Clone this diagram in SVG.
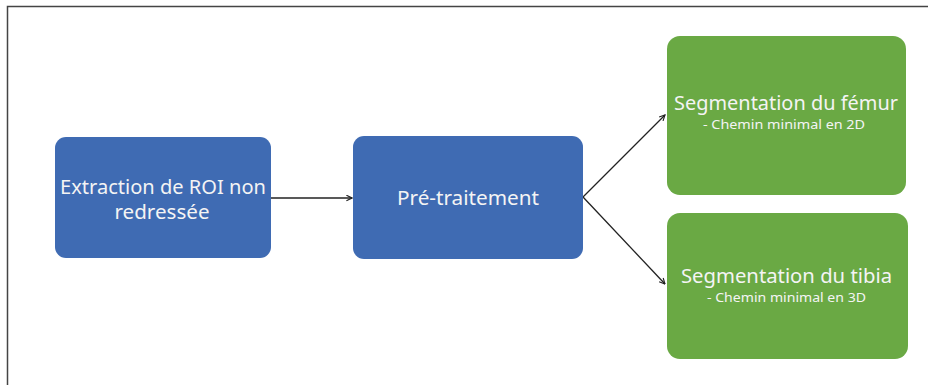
<svg xmlns="http://www.w3.org/2000/svg" width="928" height="385" viewBox="0 0 928 385">
<defs>
<style>
.blue{fill:#3F6BB3;}
.green{fill:#6AA944;}
.t{font-family:"Noto Sans","Open Sans",sans-serif;fill:#F4F4F4;text-anchor:middle;}
.m{font-size:19px;}
.s{font-size:12px;}
.c{stroke:#222;stroke-width:1.3;fill:none;marker-end:url(#ah);}
</style>
<marker id="ah" viewBox="0 0 10 10" refX="9" refY="5" markerWidth="7" markerHeight="7" orient="auto" markerUnits="userSpaceOnUse">
<path d="M1,1 L9,5 L1,9" fill="none" stroke="#222" stroke-width="1.6"/>
</marker>
</defs>
<rect width="928" height="385" fill="#fff"/>
<path d="M7.5,385 V6.5 H928" fill="none" stroke="#444" stroke-width="1.5"/>
<g id="connectors">
<line class="c" x1="271" y1="198" x2="352" y2="198"/>
<line class="c" x1="583" y1="197" x2="665" y2="115"/>
<line class="c" x1="583" y1="197" x2="665" y2="284"/>
</g>
<g id="extraction">
<rect class="blue" x="55" y="137" width="216" height="121" rx="11"/>
<text class="t m" x="163" y="194" textLength="206" lengthAdjust="spacingAndGlyphs">Extraction de ROI non</text>
<text class="t m" x="162" y="219" textLength="95" lengthAdjust="spacingAndGlyphs">redressée</text>
</g>
<g id="pretraitement">
<rect class="blue" x="353" y="136" width="230" height="123" rx="11"/>
<text class="t m" x="468" y="205" textLength="142" lengthAdjust="spacingAndGlyphs">Pré-traitement</text>
</g>
<g id="femur">
<rect class="green" x="667" y="36" width="239" height="159" rx="13"/>
<text class="t m" x="786" y="110" textLength="224" lengthAdjust="spacingAndGlyphs">Segmentation du fémur</text>
<text class="t s" x="784" y="129" textLength="162" lengthAdjust="spacingAndGlyphs">- Chemin  minimal  en 2D</text>
</g>
<g id="tibia">
<rect class="green" x="667" y="213" width="241" height="146" rx="13"/>
<text class="t m" x="786.5" y="283" textLength="211" lengthAdjust="spacingAndGlyphs">Segmentation du tibia</text>
<text class="t s" x="786.5" y="302" textLength="159" lengthAdjust="spacingAndGlyphs">- Chemin  minimal  en 3D</text>
</g>
</svg>
